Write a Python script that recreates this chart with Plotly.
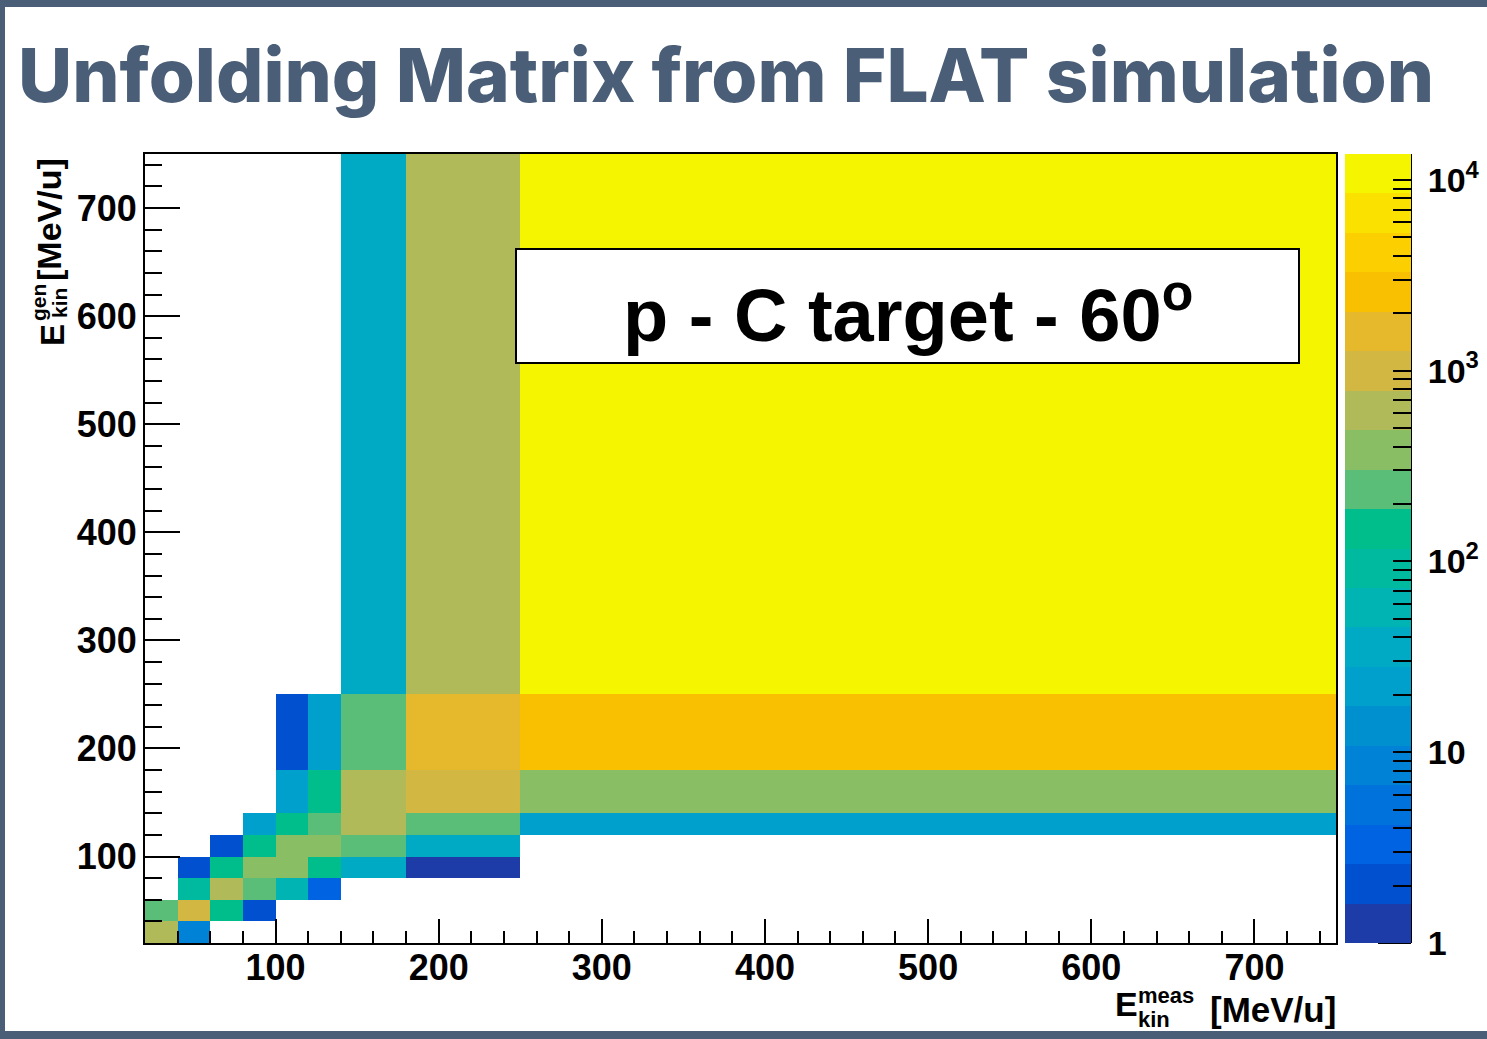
import numpy as np
import plotly.graph_objects as go

# ---------------- data ----------------
x_edges = [20, 40, 60, 80, 100, 120, 140, 180, 250, 750]   # E_kin^meas bin edges [MeV/u]
y_edges = [20, 40, 60, 80, 100, 120, 140, 180, 250, 750]   # E_kin^gen bin edges [MeV/u]
N = None
counts = [   # rows = gen bins (bottom -> top), cols = meas bins (left -> right)
    [620, 8, N, N, N, N, N, N, N],
    [240, 1000, 150, 2, N, N, N, N, N],
    [N, 92, 620, 240, 58, 3, N, N, N],
    [N, 2, 150, 390, 390, 150, 36, 1, N],
    [N, N, 2, 150, 390, 390, 240, 36, N],
    [N, N, N, 22, 150, 240, 620, 240, 22],
    [N, N, N, N, 22, 150, 620, 1000, 390],
    [N, N, N, N, 2, 22, 240, 1600, 2600],
    [N, N, N, N, N, N, 36, 620, 11000],
]
z_min, z_max = 1, 13680
cbar_decades = [1, 10, 100, 1000, 10000]
cbar_labels = ["1", "10", "10<sup>2</sup>", "10<sup>3</sup>", "10<sup>4</sup>"]

title_text = "Unfolding Matrix from FLAT simulation"
box_text = "p - C target - 60<sup>o</sup>"

# ---------------- style ----------------
band_colors = [
    "#1e3ca8", "#0050d0", "#0064e2", "#0072dc", "#0082d6",
    "#0090d0", "#00a0cc", "#00aac4", "#00b4b4", "#00baa0",
    "#00be8c", "#5abe78", "#8abe64", "#b0ba58", "#d2b842",
    "#e6b82c", "#f8c000", "#fccf00", "#fbe100", "#f5f500",
]
nb = len(band_colors)
colorscale = []
for k, c in enumerate(band_colors):
    colorscale.append([k / nb, c])
    colorscale.append([(k + 1) / nb, c])

W, H = 1487, 1039
L, R, T, B = 145, 1336, 154, 943   # plot area in pixels


def px(x):
    return (x - L) / (R - L)


def py(y):
    return (B - y) / (B - T)


slate = "#4a5e78"
root_font = "Liberation Sans"
pad_lbl = "\u00a0"

lz_min, lz_max = np.log10(z_min), np.log10(z_max)
z = [[(np.log10(v) if v is not None else None) for v in row] for row in counts]

minor_vals = [m * 10 ** d for d in range(5) for m in range(1, 10) if m * 10 ** d <= z_max]
tickvals = [float(np.log10(v)) for v in minor_vals]
ticktext = [pad_lbl + cbar_labels[cbar_decades.index(v)] if v in cbar_decades else "" for v in minor_vals]

fig = go.Figure()
fig.add_trace(go.Heatmap(
    x=x_edges, y=y_edges, z=z,
    zmin=lz_min, zmax=lz_max,
    colorscale=colorscale,
    hoverongaps=False,
    colorbar=dict(
        x=px(1345), xanchor="left", xref="paper", xpad=0,
        y=0.5, yanchor="middle", ypad=0, len=1, lenmode="fraction",
        thickness=66, outlinewidth=0,
        ticks="inside", ticklen=18, tickwidth=2, tickcolor="black",
        tickvals=tickvals, ticktext=ticktext,
        tickfont=dict(family=root_font, size=34, color="black", weight="bold"),
    ),
))

axis_common = dict(
    range=[20, 750], tick0=0, dtick=100, ticks="inside", tickwidth=2, tickcolor="black",
    showline=True, mirror=True, linecolor="black", linewidth=2,
    showgrid=False, zeroline=False,
    tickfont=dict(family=root_font, size=36, color="black", weight="bold"),
)
fig.update_xaxes(**axis_common, ticklen=24, ticklabelstandoff=-8,
                 minor=dict(dtick=20, tick0=0, ticks="inside", ticklen=12, tickwidth=2,
                            tickcolor="black", showgrid=False))
fig.update_yaxes(**axis_common, ticklen=35, ticklabelstandoff=-1,
                 minor=dict(dtick=20, tick0=0, ticks="inside", ticklen=17, tickwidth=2,
                            tickcolor="black", showgrid=False))

shapes = []
# colour-bar major ticks and right edge
for d in range(len(cbar_decades)):
    yy = (np.log10(cbar_decades[d]) - lz_min) / (lz_max - lz_min)
    shapes.append(dict(type="line", xref="paper", yref="paper", x0=px(1378), x1=px(1411),
                       y0=yy, y1=yy, line=dict(color="black", width=2)))
shapes.append(dict(type="line", xref="paper", yref="paper", x0=px(1411), x1=px(1411),
                   y0=0, y1=1, line=dict(color="black", width=2)))
# text box
shapes.append(dict(type="rect", xref="paper", yref="paper", x0=px(516), x1=px(1299),
                   y0=py(363), y1=py(249), fillcolor="white", line=dict(color="black", width=2),
                   layer="above"))
# slide frame
shapes.append(dict(type="rect", xref="paper", yref="paper", x0=px(0), x1=px(W), y0=py(0), y1=py(7),
                   fillcolor=slate, line=dict(width=0)))
shapes.append(dict(type="rect", xref="paper", yref="paper", x0=px(0), x1=px(5), y0=py(0), y1=py(H),
                   fillcolor=slate, line=dict(width=0)))
shapes.append(dict(type="rect", xref="paper", yref="paper", x0=px(0), x1=px(W), y0=py(1031), y1=py(H),
                   fillcolor=slate, line=dict(width=0)))

tf = dict(family=root_font, color="black", weight="bold")
annotations = [
    dict(text=box_text, x=px(908), y=py(310), xanchor="center", yanchor="middle",
         font=dict(**tf, size=74)),
    # x-axis title
    dict(text="[MeV/u]", x=px(1337), y=py(1009), xanchor="right", yanchor="middle",
         font=dict(**tf, size=35), borderpad=0),
    dict(text="E", x=px(1139), y=py(1004), xanchor="right", yanchor="middle",
         font=dict(**tf, size=34), borderpad=0),
    dict(text="meas", x=px(1137), y=py(995), xanchor="left", yanchor="middle",
         font=dict(**tf, size=22), borderpad=0),
    dict(text="kin", x=px(1137), y=py(1020), xanchor="left", yanchor="middle",
         font=dict(**tf, size=22), borderpad=0),
    # y-axis title
    dict(text="[MeV/u]", x=px(49), y=py(220), xanchor="center", yanchor="middle", textangle=-90,
         font=dict(**tf, size=34)),
    dict(text="E", x=px(52), y=py(335), xanchor="center", yanchor="middle", textangle=-90,
         font=dict(**tf, size=33)),
    dict(text="gen", x=px(38), y=py(303), xanchor="center", yanchor="middle", textangle=-90,
         font=dict(**tf, size=21)),
    dict(text="kin", x=px(59), y=py(303), xanchor="center", yanchor="middle", textangle=-90,
         font=dict(**tf, size=21)),
]
for a in annotations:
    a.update(xref="paper", yref="paper", showarrow=False)

fig.update_layout(
    width=W, height=H, autosize=False,
    margin=dict(l=L, r=W - R, t=T, b=H - B, pad=0, autoexpand=False),
    paper_bgcolor="white", plot_bgcolor="white",
    title=dict(text=title_text, xref="container", yref="container", x=18 / W, xanchor="left",
               y=1 - 76 / H, yanchor="middle",
               font=dict(family="Inter", size=74.5, color=slate, weight=800)),
    shapes=shapes, annotations=annotations,
)

fig.write_html("out.html", config={"displayModeBar": False},
               post_script="document.body.style.margin='0';")
